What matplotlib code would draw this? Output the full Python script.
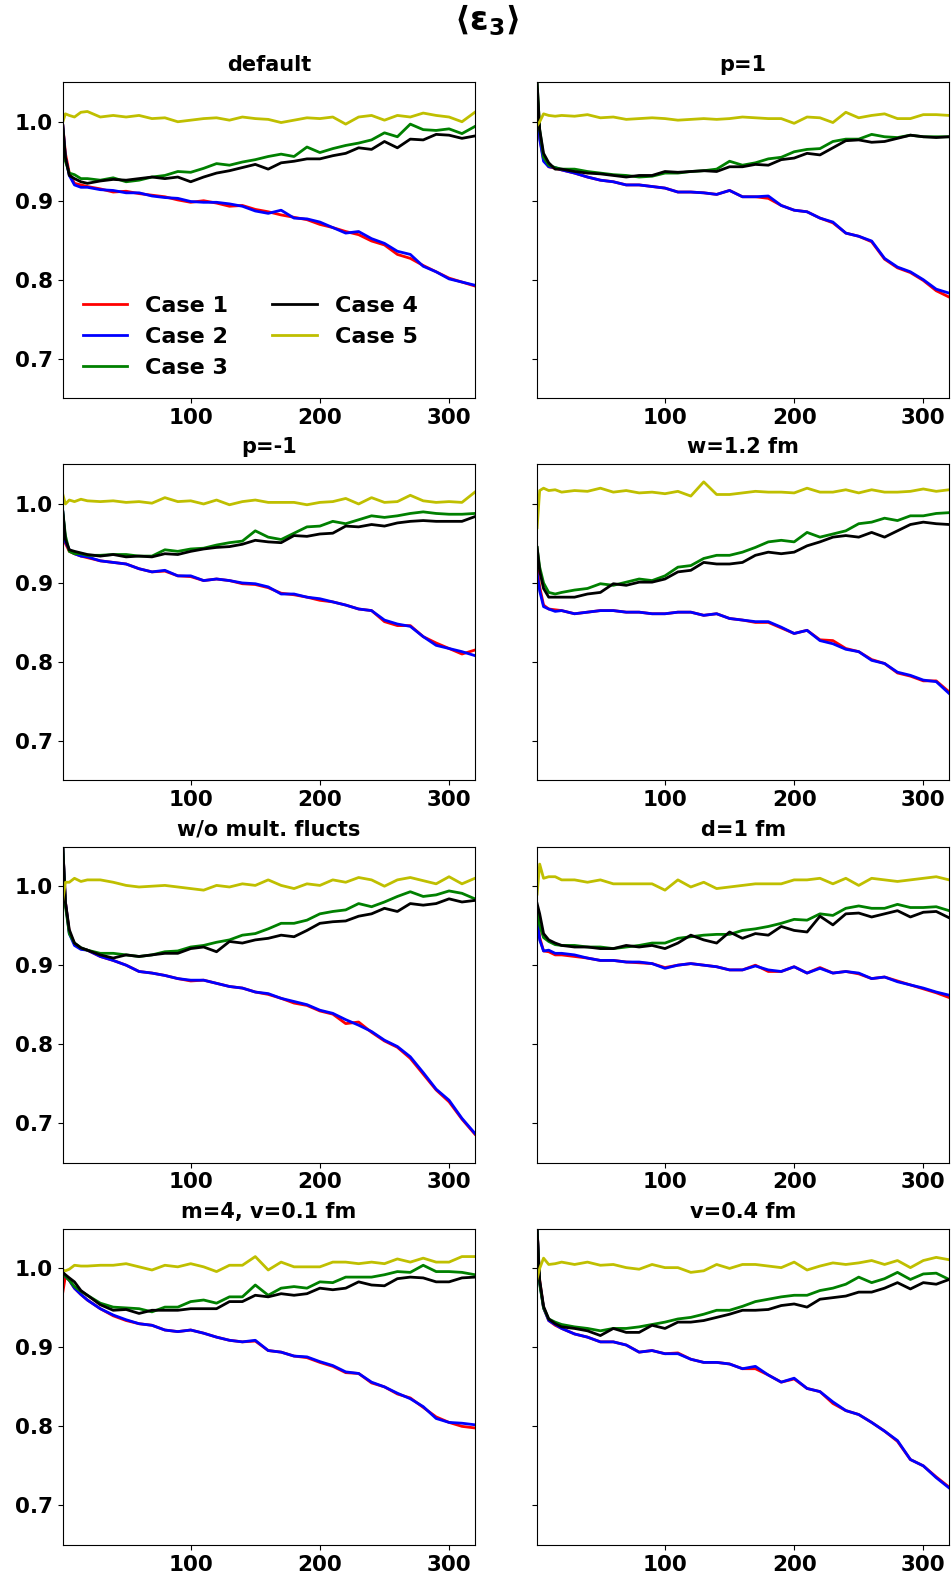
import matplotlib
matplotlib.use("Agg")
import matplotlib.pyplot as plt

# multiplicity grid the averages were sampled on
mult = [1, 3, 6, 10, 15] + list(range(20, 321, 10))

panel_titles = ["default", "p=1", "p=-1", "w=1.2 fm",
                "w/o mult. flucts", "d=1 fm", "m=4, v=0.1 fm", "v=0.4 fm"]
case_labels = ["Case 1", "Case 2", "Case 3", "Case 4", "Case 5"]
case_colors = ["r", "b", "g", "k", "y"]

# default
default_c1 = [0.995, 0.960, 0.935, 0.922, 0.920, 0.918, 0.915, 0.911, 0.912, 0.909, 0.907, 0.905, 0.901, 0.898, 0.900, 0.897, 0.893, 0.894, 0.889, 0.886, 0.882, 0.879, 0.876, 0.870, 0.866, 0.861, 0.857, 0.849, 0.844, 0.832, 0.827, 0.818, 0.810, 0.802, 0.797, 0.792]
default_c2 = [0.995, 0.955, 0.932, 0.920, 0.917, 0.917, 0.914, 0.913, 0.910, 0.910, 0.906, 0.904, 0.903, 0.899, 0.898, 0.898, 0.896, 0.893, 0.887, 0.884, 0.888, 0.878, 0.877, 0.873, 0.866, 0.859, 0.861, 0.852, 0.846, 0.836, 0.832, 0.817, 0.810, 0.801, 0.797, 0.793]
default_c3 = [0.990, 0.950, 0.935, 0.933, 0.928, 0.928, 0.926, 0.929, 0.924, 0.926, 0.930, 0.932, 0.937, 0.936, 0.941, 0.947, 0.945, 0.949, 0.952, 0.956, 0.959, 0.956, 0.968, 0.961, 0.966, 0.970, 0.973, 0.977, 0.986, 0.981, 0.997, 0.990, 0.989, 0.991, 0.985, 0.994]
default_c4 = [0.995, 0.955, 0.932, 0.928, 0.924, 0.922, 0.925, 0.927, 0.926, 0.928, 0.930, 0.928, 0.930, 0.924, 0.930, 0.935, 0.938, 0.942, 0.946, 0.940, 0.948, 0.950, 0.953, 0.953, 0.957, 0.960, 0.967, 0.965, 0.975, 0.967, 0.978, 0.977, 0.984, 0.983, 0.979, 0.982]
default_c5 = [1.000, 1.010, 1.008, 1.006, 1.012, 1.013, 1.006, 1.008, 1.006, 1.008, 1.004, 1.005, 1.000, 1.002, 1.004, 1.005, 1.002, 1.006, 1.004, 1.003, 0.999, 1.002, 1.005, 1.004, 1.006, 0.997, 1.006, 1.008, 1.002, 1.008, 1.006, 1.011, 1.008, 1.006, 1.000, 1.012]

# p=1
p1_c1 = [1.040, 0.980, 0.952, 0.943, 0.941, 0.939, 0.935, 0.930, 0.926, 0.924, 0.920, 0.920, 0.918, 0.916, 0.911, 0.911, 0.910, 0.908, 0.913, 0.905, 0.905, 0.903, 0.894, 0.888, 0.886, 0.878, 0.872, 0.859, 0.855, 0.848, 0.826, 0.815, 0.809, 0.799, 0.786, 0.778]
p1_c2 = [1.040, 0.978, 0.950, 0.943, 0.942, 0.939, 0.935, 0.930, 0.926, 0.924, 0.920, 0.920, 0.918, 0.916, 0.911, 0.911, 0.910, 0.908, 0.913, 0.905, 0.905, 0.906, 0.894, 0.888, 0.886, 0.878, 0.873, 0.859, 0.855, 0.849, 0.827, 0.816, 0.810, 0.800, 0.788, 0.783]
p1_c3 = [1.050, 0.990, 0.955, 0.945, 0.942, 0.940, 0.940, 0.937, 0.935, 0.933, 0.932, 0.930, 0.931, 0.935, 0.935, 0.937, 0.938, 0.940, 0.950, 0.945, 0.948, 0.953, 0.955, 0.962, 0.965, 0.966, 0.975, 0.978, 0.978, 0.984, 0.981, 0.980, 0.983, 0.981, 0.981, 0.981]
p1_c4 = [1.050, 0.990, 0.960, 0.948, 0.940, 0.940, 0.937, 0.935, 0.934, 0.932, 0.930, 0.932, 0.932, 0.937, 0.936, 0.937, 0.938, 0.937, 0.943, 0.943, 0.946, 0.945, 0.952, 0.954, 0.960, 0.958, 0.967, 0.976, 0.977, 0.974, 0.975, 0.979, 0.983, 0.981, 0.980, 0.981]
p1_c5 = [0.995, 1.000, 1.010, 1.008, 1.007, 1.008, 1.007, 1.009, 1.005, 1.006, 1.003, 1.004, 1.005, 1.004, 1.002, 1.003, 1.004, 1.003, 1.004, 1.006, 1.005, 1.004, 1.004, 0.998, 1.006, 1.005, 0.999, 1.012, 1.005, 1.008, 1.010, 1.004, 1.004, 1.009, 1.009, 1.008]

# p=-1
pm1_c1 = [0.985, 0.950, 0.940, 0.937, 0.934, 0.932, 0.928, 0.926, 0.924, 0.918, 0.914, 0.915, 0.909, 0.908, 0.903, 0.905, 0.903, 0.899, 0.898, 0.894, 0.887, 0.885, 0.882, 0.878, 0.876, 0.872, 0.867, 0.865, 0.851, 0.846, 0.846, 0.832, 0.824, 0.817, 0.810, 0.815]
pm1_c2 = [0.990, 0.952, 0.942, 0.937, 0.934, 0.933, 0.928, 0.926, 0.924, 0.918, 0.914, 0.916, 0.909, 0.909, 0.903, 0.905, 0.903, 0.900, 0.899, 0.895, 0.886, 0.886, 0.882, 0.880, 0.876, 0.872, 0.867, 0.865, 0.853, 0.848, 0.845, 0.832, 0.821, 0.817, 0.813, 0.808]
pm1_c3 = [0.990, 0.960, 0.940, 0.937, 0.937, 0.935, 0.935, 0.936, 0.936, 0.934, 0.934, 0.942, 0.940, 0.943, 0.944, 0.948, 0.951, 0.953, 0.966, 0.958, 0.955, 0.963, 0.971, 0.972, 0.978, 0.975, 0.980, 0.985, 0.983, 0.985, 0.988, 0.990, 0.988, 0.987, 0.987, 0.988]
pm1_c4 = [0.990, 0.955, 0.942, 0.940, 0.938, 0.936, 0.934, 0.936, 0.933, 0.934, 0.933, 0.937, 0.936, 0.940, 0.943, 0.945, 0.946, 0.949, 0.954, 0.952, 0.951, 0.960, 0.959, 0.962, 0.963, 0.972, 0.971, 0.974, 0.972, 0.976, 0.978, 0.979, 0.978, 0.978, 0.978, 0.984]
pm1_c5 = [1.012, 1.000, 1.005, 1.003, 1.006, 1.004, 1.003, 1.004, 1.002, 1.003, 1.001, 1.008, 1.003, 1.004, 1.000, 1.005, 0.999, 1.003, 1.005, 1.002, 1.002, 1.002, 0.999, 1.002, 1.003, 1.007, 1.000, 1.008, 1.002, 1.003, 1.011, 1.004, 1.002, 1.003, 1.002, 1.015]

# w=1.2 fm
w12_c1 = [0.920, 0.895, 0.872, 0.867, 0.866, 0.865, 0.861, 0.863, 0.865, 0.865, 0.863, 0.863, 0.861, 0.861, 0.863, 0.863, 0.859, 0.861, 0.855, 0.853, 0.850, 0.850, 0.843, 0.836, 0.840, 0.828, 0.827, 0.817, 0.813, 0.803, 0.798, 0.786, 0.782, 0.776, 0.776, 0.762]
w12_c2 = [0.912, 0.890, 0.870, 0.867, 0.864, 0.865, 0.861, 0.863, 0.865, 0.865, 0.863, 0.863, 0.861, 0.861, 0.863, 0.863, 0.859, 0.861, 0.855, 0.853, 0.851, 0.851, 0.844, 0.836, 0.840, 0.827, 0.823, 0.816, 0.813, 0.802, 0.798, 0.787, 0.783, 0.777, 0.775, 0.760]
w12_c3 = [0.945, 0.920, 0.900, 0.888, 0.886, 0.888, 0.891, 0.893, 0.899, 0.897, 0.901, 0.905, 0.903, 0.909, 0.920, 0.922, 0.931, 0.935, 0.935, 0.939, 0.945, 0.952, 0.954, 0.952, 0.964, 0.958, 0.962, 0.966, 0.975, 0.977, 0.982, 0.979, 0.985, 0.985, 0.988, 0.989]
w12_c4 = [0.945, 0.915, 0.893, 0.882, 0.882, 0.882, 0.882, 0.886, 0.888, 0.899, 0.897, 0.901, 0.901, 0.905, 0.914, 0.916, 0.926, 0.924, 0.924, 0.926, 0.935, 0.939, 0.937, 0.939, 0.947, 0.952, 0.958, 0.960, 0.958, 0.964, 0.958, 0.966, 0.974, 0.977, 0.975, 0.974]
w12_c5 = [0.970, 1.017, 1.020, 1.017, 1.018, 1.015, 1.017, 1.016, 1.020, 1.015, 1.017, 1.014, 1.015, 1.013, 1.016, 1.010, 1.028, 1.012, 1.012, 1.014, 1.016, 1.015, 1.015, 1.014, 1.020, 1.015, 1.015, 1.018, 1.014, 1.018, 1.015, 1.015, 1.016, 1.019, 1.016, 1.018]

# w/o multiplicity fluctuations
nomf_c1 = [1.050, 0.980, 0.942, 0.927, 0.921, 0.919, 0.911, 0.906, 0.900, 0.892, 0.890, 0.887, 0.883, 0.880, 0.881, 0.877, 0.873, 0.871, 0.866, 0.863, 0.858, 0.852, 0.849, 0.842, 0.838, 0.826, 0.828, 0.815, 0.804, 0.796, 0.782, 0.762, 0.742, 0.727, 0.705, 0.686]
nomf_c2 = [1.050, 0.980, 0.940, 0.925, 0.920, 0.919, 0.911, 0.906, 0.900, 0.892, 0.890, 0.887, 0.883, 0.881, 0.881, 0.877, 0.873, 0.871, 0.866, 0.864, 0.858, 0.854, 0.850, 0.843, 0.839, 0.831, 0.824, 0.816, 0.805, 0.797, 0.784, 0.764, 0.743, 0.729, 0.706, 0.687]
nomf_c3 = [1.050, 0.975, 0.940, 0.928, 0.922, 0.919, 0.915, 0.915, 0.913, 0.911, 0.913, 0.917, 0.918, 0.923, 0.925, 0.929, 0.932, 0.938, 0.940, 0.946, 0.953, 0.953, 0.957, 0.965, 0.968, 0.970, 0.978, 0.974, 0.980, 0.987, 0.993, 0.987, 0.989, 0.994, 0.991, 0.984]
nomf_c4 = [1.050, 0.980, 0.945, 0.928, 0.922, 0.919, 0.913, 0.909, 0.913, 0.911, 0.913, 0.915, 0.915, 0.921, 0.923, 0.917, 0.930, 0.928, 0.932, 0.934, 0.938, 0.936, 0.944, 0.953, 0.955, 0.956, 0.962, 0.965, 0.972, 0.968, 0.978, 0.976, 0.978, 0.984, 0.980, 0.982]
nomf_c5 = [0.982, 1.005, 1.005, 1.010, 1.006, 1.008, 1.008, 1.005, 1.001, 0.999, 1.000, 1.001, 0.999, 0.997, 0.995, 1.001, 0.999, 1.003, 1.001, 1.008, 1.001, 0.997, 1.003, 1.001, 1.008, 1.005, 1.011, 1.008, 1.000, 1.008, 1.011, 1.007, 1.003, 1.012, 1.003, 1.010]

# d=1 fm
d1_c1 = [0.965, 0.935, 0.918, 0.917, 0.913, 0.913, 0.911, 0.909, 0.906, 0.906, 0.904, 0.903, 0.902, 0.897, 0.900, 0.902, 0.900, 0.898, 0.894, 0.894, 0.900, 0.892, 0.892, 0.898, 0.890, 0.897, 0.890, 0.892, 0.889, 0.883, 0.885, 0.880, 0.875, 0.870, 0.865, 0.859]
d1_c2 = [0.959, 0.932, 0.918, 0.919, 0.915, 0.915, 0.913, 0.909, 0.906, 0.906, 0.904, 0.904, 0.902, 0.896, 0.900, 0.902, 0.900, 0.898, 0.894, 0.894, 0.899, 0.894, 0.892, 0.898, 0.890, 0.896, 0.890, 0.892, 0.890, 0.883, 0.885, 0.879, 0.875, 0.871, 0.866, 0.862]
d1_c3 = [0.970, 0.950, 0.935, 0.930, 0.926, 0.925, 0.925, 0.923, 0.923, 0.921, 0.923, 0.925, 0.928, 0.928, 0.934, 0.936, 0.938, 0.939, 0.939, 0.944, 0.946, 0.949, 0.953, 0.958, 0.957, 0.965, 0.963, 0.972, 0.975, 0.972, 0.972, 0.977, 0.973, 0.973, 0.974, 0.969]
d1_c4 = [0.978, 0.965, 0.940, 0.932, 0.928, 0.925, 0.923, 0.923, 0.921, 0.921, 0.925, 0.923, 0.925, 0.921, 0.928, 0.938, 0.932, 0.928, 0.942, 0.934, 0.940, 0.938, 0.949, 0.944, 0.942, 0.962, 0.951, 0.965, 0.966, 0.961, 0.965, 0.969, 0.961, 0.967, 0.968, 0.960]
d1_c5 = [0.990, 1.028, 1.010, 1.012, 1.012, 1.008, 1.008, 1.005, 1.008, 1.003, 1.003, 1.003, 1.003, 0.995, 1.008, 0.999, 1.005, 0.997, 0.999, 1.001, 1.003, 1.003, 1.003, 1.008, 1.008, 1.010, 1.003, 1.010, 1.001, 1.010, 1.008, 1.006, 1.008, 1.010, 1.012, 1.008]

# m=4, v=0.1 fm
m4_c1 = [0.970, 0.990, 0.985, 0.975, 0.967, 0.960, 0.949, 0.940, 0.934, 0.930, 0.928, 0.922, 0.920, 0.922, 0.918, 0.913, 0.909, 0.907, 0.908, 0.896, 0.894, 0.889, 0.887, 0.881, 0.876, 0.868, 0.867, 0.855, 0.850, 0.841, 0.836, 0.824, 0.812, 0.805, 0.800, 0.798]
m4_c2 = [0.995, 0.990, 0.985, 0.975, 0.967, 0.960, 0.949, 0.941, 0.935, 0.930, 0.928, 0.922, 0.920, 0.922, 0.918, 0.913, 0.909, 0.907, 0.909, 0.896, 0.894, 0.889, 0.888, 0.882, 0.877, 0.869, 0.867, 0.856, 0.850, 0.842, 0.835, 0.825, 0.810, 0.805, 0.804, 0.802]
m4_c3 = [0.994, 0.990, 0.985, 0.977, 0.971, 0.966, 0.956, 0.951, 0.950, 0.949, 0.945, 0.951, 0.951, 0.958, 0.960, 0.956, 0.964, 0.964, 0.979, 0.966, 0.975, 0.977, 0.975, 0.983, 0.982, 0.989, 0.989, 0.989, 0.992, 0.996, 0.995, 1.004, 0.996, 0.996, 0.995, 0.992]
m4_c4 = [0.995, 0.992, 0.988, 0.983, 0.972, 0.966, 0.954, 0.947, 0.948, 0.943, 0.947, 0.947, 0.947, 0.949, 0.949, 0.949, 0.958, 0.958, 0.966, 0.964, 0.968, 0.966, 0.968, 0.975, 0.973, 0.975, 0.983, 0.979, 0.978, 0.987, 0.989, 0.988, 0.983, 0.983, 0.988, 0.989]
m4_c5 = [0.998, 0.997, 0.999, 1.004, 1.003, 1.003, 1.004, 1.004, 1.006, 1.002, 0.998, 1.004, 1.002, 1.006, 1.002, 0.996, 1.004, 1.004, 1.015, 0.998, 1.008, 1.002, 1.002, 1.002, 1.008, 1.008, 1.006, 1.008, 1.006, 1.012, 1.008, 1.013, 1.008, 1.008, 1.015, 1.015]

# v=0.4 fm
v04_c1 = [1.050, 0.985, 0.950, 0.934, 0.928, 0.924, 0.917, 0.913, 0.907, 0.907, 0.903, 0.894, 0.896, 0.892, 0.893, 0.885, 0.881, 0.881, 0.879, 0.873, 0.873, 0.865, 0.856, 0.860, 0.848, 0.844, 0.829, 0.820, 0.815, 0.805, 0.794, 0.781, 0.758, 0.750, 0.736, 0.723]
v04_c2 = [1.050, 0.982, 0.950, 0.934, 0.929, 0.924, 0.917, 0.913, 0.907, 0.907, 0.903, 0.894, 0.896, 0.892, 0.892, 0.885, 0.881, 0.881, 0.879, 0.873, 0.876, 0.865, 0.856, 0.861, 0.848, 0.844, 0.831, 0.820, 0.815, 0.805, 0.794, 0.782, 0.758, 0.750, 0.735, 0.722]
v04_c3 = [1.050, 0.980, 0.950, 0.936, 0.932, 0.929, 0.926, 0.924, 0.921, 0.924, 0.924, 0.926, 0.929, 0.932, 0.936, 0.938, 0.942, 0.947, 0.947, 0.952, 0.958, 0.961, 0.964, 0.966, 0.966, 0.972, 0.975, 0.980, 0.989, 0.982, 0.987, 0.995, 0.986, 0.993, 0.994, 0.986]
v04_c4 = [1.050, 0.985, 0.952, 0.936, 0.930, 0.926, 0.924, 0.921, 0.915, 0.924, 0.919, 0.919, 0.928, 0.924, 0.932, 0.932, 0.934, 0.938, 0.942, 0.947, 0.947, 0.948, 0.953, 0.955, 0.951, 0.961, 0.963, 0.965, 0.970, 0.970, 0.975, 0.982, 0.974, 0.982, 0.980, 0.986]
v04_c5 = [0.987, 1.000, 1.013, 1.005, 1.006, 1.008, 1.005, 1.008, 1.004, 1.005, 1.001, 0.999, 1.005, 1.001, 1.001, 0.995, 0.997, 1.005, 1.000, 1.005, 1.005, 1.003, 1.001, 1.008, 0.998, 1.003, 1.007, 1.005, 1.007, 1.010, 1.005, 1.010, 1.001, 1.010, 1.014, 1.011]

panels = [
    [default_c1, default_c2, default_c3, default_c4, default_c5],
    [p1_c1, p1_c2, p1_c3, p1_c4, p1_c5],
    [pm1_c1, pm1_c2, pm1_c3, pm1_c4, pm1_c5],
    [w12_c1, w12_c2, w12_c3, w12_c4, w12_c5],
    [nomf_c1, nomf_c2, nomf_c3, nomf_c4, nomf_c5],
    [d1_c1, d1_c2, d1_c3, d1_c4, d1_c5],
    [m4_c1, m4_c2, m4_c3, m4_c4, m4_c5],
    [v04_c1, v04_c2, v04_c3, v04_c4, v04_c5],
]

fig, axes = plt.subplots(4, 2, figsize=(9.52, 15.82), dpi=100, sharey=True)
fig.subplots_adjust(left=0.066, right=0.997, top=0.948, bottom=0.0235,
                    wspace=0.151, hspace=0.21)

for ax, title, curves in zip(axes.flat, panel_titles, panels):
    for y, lab, col in zip(curves, case_labels, case_colors):
        ax.plot(mult, y, color=col, lw=2, label=lab)
    ax.set_title(title, fontsize=15, fontweight="bold", pad=8)
    ax.set_xlim(1, 320)
    ax.set_ylim(0.65, 1.05)
    ax.set_xticks([100, 200, 300])
    ax.set_yticks([0.7, 0.8, 0.9, 1.0])
    for lbl in ax.get_xticklabels() + ax.get_yticklabels():
        lbl.set_fontsize(15.5)
        lbl.set_fontweight("bold")

axes[0, 0].legend(loc="lower left", ncol=2, frameon=False,
                  prop={"size": 16, "weight": "bold"})

fig.suptitle(r"$\mathbf{\langle\varepsilon_3\rangle}$",
             fontsize=24, x=0.511, y=0.987, va="center")

fig.savefig("out.png", dpi=100)
